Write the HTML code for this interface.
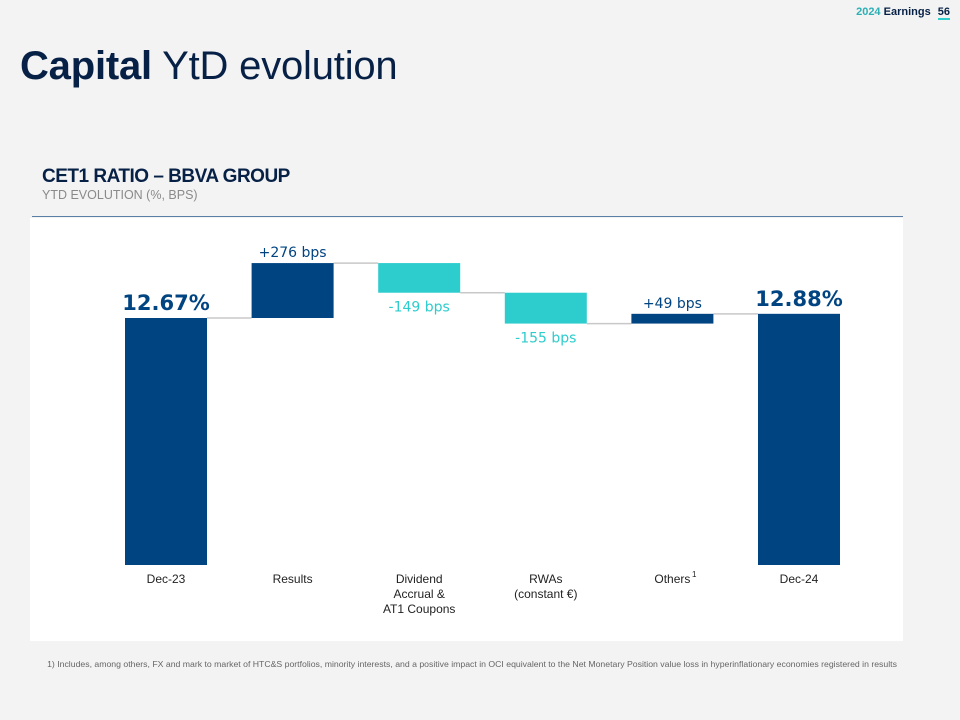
<!DOCTYPE html>
<html><head><meta charset="utf-8"><style>
body{margin:0;width:960px;height:720px;background:#f3f3f3;position:relative;overflow:hidden;font-family:"Liberation Sans",sans-serif}
.abs{position:absolute;white-space:nowrap}
</style></head><body>
<div class="abs" style="right:10px;top:6px;font-size:11px;font-weight:bold;color:#072146">
<span style="color:#2dafb5">2024</span> Earnings <span style="margin-left:4px;border-bottom:2px solid #2dcccd">56</span></div>
<div class="abs" style="left:20px;top:44px;font-size:40px;color:#072146;letter-spacing:-0.2px"><b>Capital</b> YtD evolution</div>
<div class="abs" style="left:42px;top:166px;font-size:19px;font-weight:bold;color:#072146;letter-spacing:-0.5px">CET1 RATIO – BBVA GROUP</div>
<div class="abs" style="left:42px;top:188px;font-size:12.5px;color:#8a8a8a">YTD EVOLUTION (%, BPS)</div>
<div class="abs" style="left:32px;top:216px;width:871px;height:1px;background:#5a7ea6"></div>
<svg class="abs" style="left:0;top:0" width="960" height="720" id="chart"></svg>
<div class="abs" style="left:0;width:944px;text-align:center;top:659px;font-size:8.7px;color:#666">1) Includes, among others, FX and mark to market of HTC&amp;S portfolios, minority interests, and a positive impact in OCI equivalent to the Net Monetary Position value loss in hyperinflationary economies registered in results</div>
<script>
const categories=["Dec-23","Results","Dividend|Accrual  &|AT1 Coupons","RWAs|(constant €)","Others","Dec-24"];
const deltas=[12.67,2.76,-1.49,-1.55,0.49,12.88];
const kinds=["total","delta","delta","delta","delta","total"];
const valueLabels=["12.67%","+276 bps","-149 bps","-155 bps","+49 bps","12.88%"];
const svg=document.getElementById('chart');
const NS="http://www.w3.org/2000/svg";
function y(v){return 318+(12.67-v)*19.9;}
function x(i){return 125+i*126.6;}
const W=82,BASE=565;
function mk(t,a){const e=document.createElementNS(NS,t);for(const k in a)e.setAttribute(k,a[k]);svg.appendChild(e);return e;}
const bg=mk('rect',{x:30,y:218,width:873,height:423,fill:'#fff'});


let run=0;
for(let i=0;i<categories.length;i++){
  let top,bot,col,prev=run;
  if(kinds[i]==='total'){run=deltas[i];top=y(run);bot=BASE;col='#004481';}
  else{run=prev+deltas[i];top=y(Math.max(prev,run));bot=y(Math.min(prev,run));col=deltas[i]>0?'#004481':'#2dcccd';}
  if(i<categories.length-1){
    const l=mk('line',{x1:x(i)+W,x2:x(i+1),y1:y(run),y2:y(run),stroke:'#c8c8c8','stroke-width':1.5});
    
    
  }
  const r=mk('rect',{x:x(i),y:top,width:W,height:Math.max(1,bot-top),fill:col});
  
  
  let tx=x(i)+W/2,ty,fs=14,fw='normal',fc=col;
  if(kinds[i]==='total'){ty=top-8;fs=21;fw='bold';}
  else if(deltas[i]>0){ty=top-6;}
  else{ty=bot+19;}
  if(i===4){ty=top-6;}
  const t=mk('text',{x:tx,y:ty,'text-anchor':'middle','font-size':fs,'font-weight':fw,fill:fc,'font-family':'DejaVu Sans, sans-serif'});
  t.textContent=valueLabels[i];
  
  
  const parts=categories[i].split('|');
  parts.forEach((p,j)=>{
    const c=mk('text',{x:tx,y:583+j*15,'text-anchor':'middle','font-size':12,fill:'#222','font-family':'Liberation Sans, sans-serif'});
    c.textContent=p;
    
    
  });
}
const s=mk('text',{x:692,y:577,'font-size':8,fill:'#222','font-family':'Liberation Sans, sans-serif'});
s.textContent='1';


</script>
</body></html>
